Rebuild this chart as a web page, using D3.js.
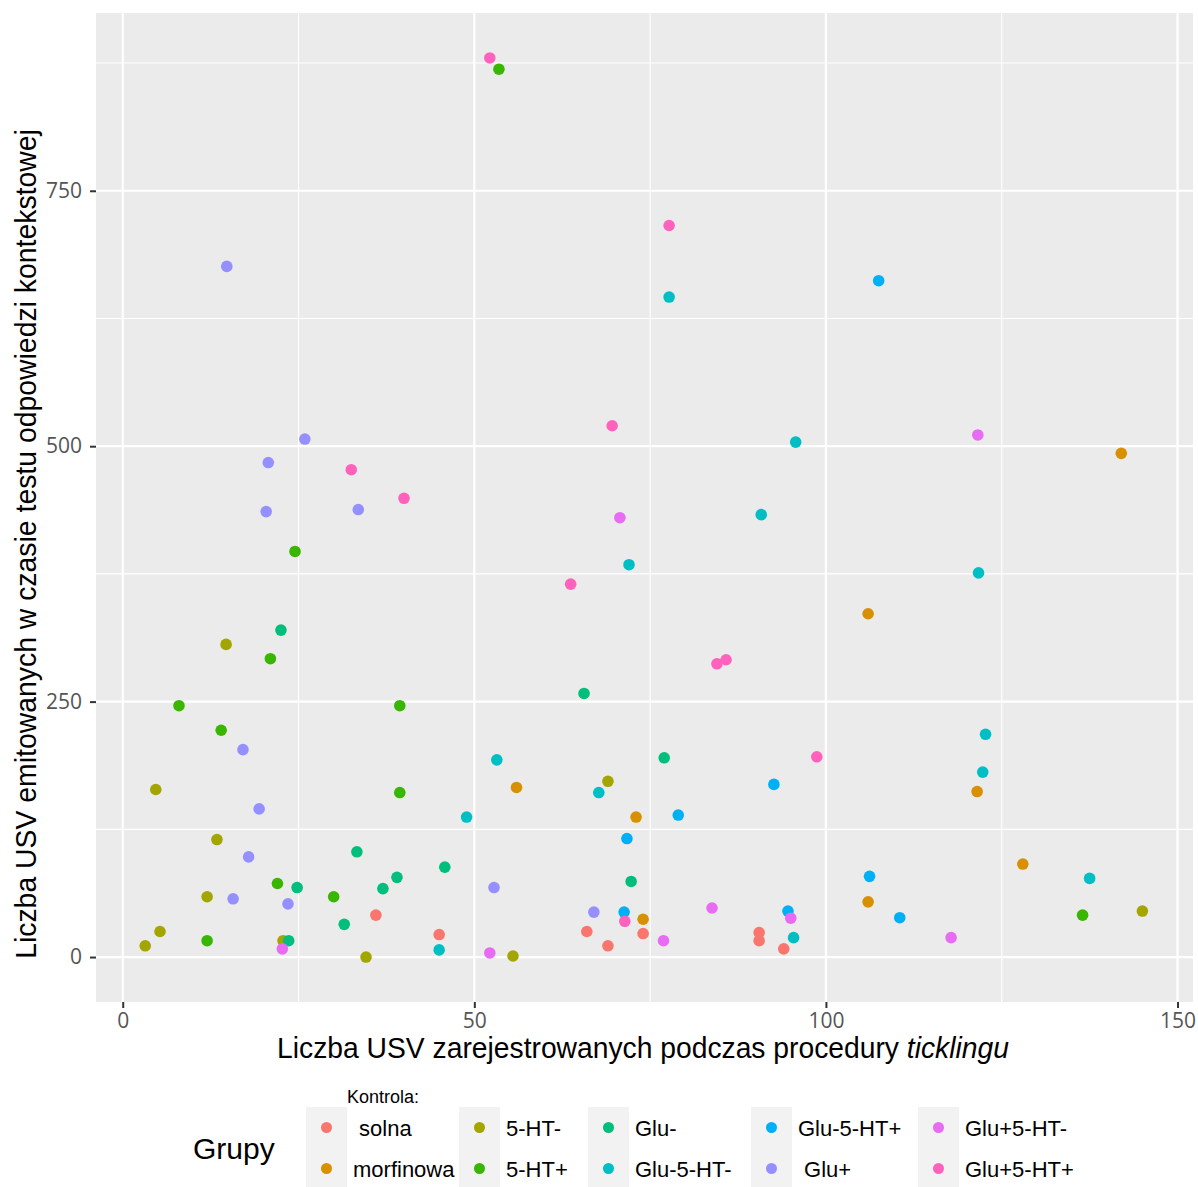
<!DOCTYPE html>
<html>
<head>
<meta charset="utf-8">
<title>USV scatter</title>
<style>
html, body { margin: 0; padding: 0; background: #fff; }
svg { display: block; }
text { font-family: "Liberation Sans", Arial, sans-serif; }
.leg-label { white-space: pre; }
</style>
</head>
<body>
<svg width="1198" height="1187"></svg>
<script src="https://cdnjs.cloudflare.com/ajax/libs/d3/7.8.5/d3.min.js"></script>
<script>
// group names (legend order) and ggplot hue colours
const grupy = [" solna", "morfinowa", "5-HT-", "5-HT+", "Glu-", "Glu-5-HT-", "Glu-5-HT+", " Glu+", "Glu+5-HT-", "Glu+5-HT+"];
const kolory = ["#F8766D", "#D89000", "#A3A500", "#39B600", "#00BF7D", "#00BFC4", "#00B0F6", "#9590FF", "#E76BF3", "#FF62BC"];

// [tickling USV, contextual test USV] for each animal
const solna = [[36, 41], [45, 22], [66, 25], [69, 11], [74, 23], [90.5, 24], [90.5, 16], [94, 8]];
const morfinowa = [[142, 493], [106, 336], [121.5, 162], [56, 166], [73, 137], [74, 37], [128, 91], [106, 54]];
const ht5minus = [[14.7, 306], [4.7, 164], [13.4, 115], [12, 59], [5.3, 25], [3.2, 11], [22.8, 16], [34.6, 0], [55.5, 1], [69, 172], [145, 45]];
const ht5plus = [[53.5, 869], [24.5, 397], [21, 292], [8, 246], [14, 222], [39.4, 246], [39.4, 161], [22, 72], [30, 59], [12, 16], [136.5, 41]];
const gluMinus = [[22.5, 320], [65.6, 258], [77, 195], [33.3, 103], [24.8, 68], [37, 67], [31.5, 32], [45.8, 88], [72.3, 74], [23.6, 16], [39, 78]];
const gluMinusHtMinus = [[77.7, 646], [95.7, 504], [90.8, 433], [72, 384], [121.7, 376], [122.7, 218], [122.3, 181], [53.2, 193], [48.9, 137], [67.7, 161], [137.5, 77], [45, 7], [95.4, 19]];
const gluMinusHtPlus = [[107.5, 662], [79, 139], [71.7, 116], [92.6, 169], [71.3, 44], [94.6, 45], [106.2, 79], [110.5, 38.5]];
const gluPlus = [[14.8, 676], [25.9, 507], [20.7, 484], [20.4, 436], [33.5, 438], [17.1, 203], [19.4, 145], [17.9, 98], [15.7, 57], [23.5, 52], [52.8, 68], [67, 44]];
const gluPlusHtMinus = [[70.7, 430], [121.6, 511], [83.8, 48], [95, 38], [76.9, 16], [52.2, 4], [22.7, 8], [117.8, 19]];
const gluPlusHtPlus = [[52.2, 880], [77.7, 716], [32.5, 477], [40, 449], [69.6, 520], [63.7, 365], [84.5, 287], [85.8, 291], [98.7, 196], [71.4, 35]];

const xTicks = [0, 50, 100, 150];
const yTicks = [0, 250, 500, 750];
const xMinor = [25, 75, 125];
const yMinor = [125, 375, 625, 875];

const seria = [solna, morfinowa, ht5minus, ht5plus, gluMinus, gluMinusHtMinus, gluMinusHtPlus, gluPlus, gluPlusHtMinus, gluPlusHtPlus];

const panel = {left: 96, top: 13, right: 1193, bottom: 1002};

let svg = d3.select("svg");

let xScale = d3.scaleLinear().domain([-3.8, 152.2]).range([panel.left, panel.right]);
let yScale = d3.scaleLinear().domain([-44, 924]).range([panel.bottom, panel.top]);
let color = d3.scaleOrdinal().domain(grupy).range(kolory);

// panel background
svg.append("rect")
    .attr("x", panel.left).attr("y", panel.top)
    .attr("width", panel.right - panel.left)
    .attr("height", panel.bottom - panel.top)
    .attr("fill", "#EBEBEB");

// grid lines
let grid = svg.append("g");
grid.selectAll(".vmin").data(xMinor).enter().append("line")
    .attr("x1", d => xScale(d)).attr("x2", d => xScale(d))
    .attr("y1", panel.top).attr("y2", panel.bottom)
    .attr("stroke", "#fff").attr("stroke-width", 1.1);
grid.selectAll(".hmin").data(yMinor).enter().append("line")
    .attr("y1", d => yScale(d)).attr("y2", d => yScale(d))
    .attr("x1", panel.left).attr("x2", panel.right)
    .attr("stroke", "#fff").attr("stroke-width", 1.1);
grid.selectAll(".vmaj").data(xTicks).enter().append("line")
    .attr("x1", d => xScale(d)).attr("x2", d => xScale(d))
    .attr("y1", panel.top).attr("y2", panel.bottom)
    .attr("stroke", "#fff").attr("stroke-width", 2.2);
grid.selectAll(".hmaj").data(yTicks).enter().append("line")
    .attr("y1", d => yScale(d)).attr("y2", d => yScale(d))
    .attr("x1", panel.left).attr("x2", panel.right)
    .attr("stroke", "#fff").attr("stroke-width", 2.2);

// axes
let xAxis = d3.axisBottom(xScale).tickValues(xTicks).tickSize(6).tickPadding(5);
let yAxis = d3.axisLeft(yScale).tickValues(yTicks).tickSize(6).tickPadding(8);

let gx = svg.append("g")
    .attr("transform", "translate(" + [0, panel.bottom] + ")")
    .call(xAxis);
let gy = svg.append("g")
    .attr("transform", "translate(" + [panel.left, 0] + ")")
    .call(yAxis);

[gx, gy].forEach(g => {
    g.attr("font-size", null).attr("font-family", null);
    g.select(".domain").remove();
    g.selectAll(".tick line").attr("stroke", "#333").attr("stroke-width", 2);
    g.selectAll(".tick text")
        .attr("fill", "#555")
        .style("font-family", "'Open Sans', 'Liberation Sans', sans-serif")
        .style("font-size", "21px");
});

// points
seria.forEach((pts, i) => {
    svg.append("g").selectAll("circle")
        .data(pts)
        .enter().append("circle")
        .attr("cx", d => xScale(d[0]))
        .attr("cy", d => yScale(d[1]))
        .attr("r", 5.8)
        .attr("fill", color(grupy[i]));
});

// axis titles: natural text squeezed horizontally to the reference width
function squeeze(sel, cx, cy, targetW, rot) {
    let w = sel.node().getComputedTextLength();
    let s = targetW / w;
    sel.attr("transform", "translate(" + [cx, cy] + ")" + (rot ? " rotate(" + rot + ")" : "") + " scale(" + s + ",1)");
}

let xt = svg.append("text")
    .attr("text-anchor", "middle")
    .attr("fill", "#000")
    .style("font-size", "29px");
xt.append("tspan").text("Liczba USV zarejestrowanych podczas procedury ");
xt.append("tspan").style("font-style", "italic").text("ticklingu");
squeeze(xt, 643, 1058, 732, 0);

let yt = svg.append("text")
    .attr("text-anchor", "middle")
    .attr("fill", "#000")
    .style("font-size", "29px")
    .text("Liczba USV emitowanych w czasie testu odpowiedzi kontekstowej");
squeeze(yt, 36, 544, 830, -90);

// legend
let legend = svg.append("g");
legend.append("text")
    .attr("x", 193).attr("y", 1159)
    .style("font-size", "30px")
    .attr("fill", "#000")
    .text("Grupy");
legend.append("text")
    .attr("x", 347).attr("y", 1103)
    .style("font-size", "18px")
    .attr("fill", "#000")
    .text("Kontrola:");

const keyW = 41, keyH = 41, keyTop = 1107;
const colLeft = [306, 459, 588, 751, 918];
colLeft.forEach((cx, c) => {
    for (let r = 0; r < 2; r++) {
        let i = c * 2 + r;
        let ky = keyTop + r * keyH;
        legend.append("rect")
            .attr("x", cx).attr("y", ky)
            .attr("width", keyW).attr("height", keyH)
            .attr("fill", "#F2F2F2");
        legend.append("circle")
            .attr("cx", cx + keyW / 2).attr("cy", ky + keyH / 2)
            .attr("r", 5.5)
            .attr("fill", color(grupy[i]));
        legend.append("text")
            .attr("class", "leg-label")
            .attr("x", cx + keyW + 6)
            .attr("y", ky + keyH / 2 + 8)
            .style("font-size", "22px")
            .attr("fill", "#000")
            .text(grupy[i]);
    }
});
</script>
</body>
</html>
